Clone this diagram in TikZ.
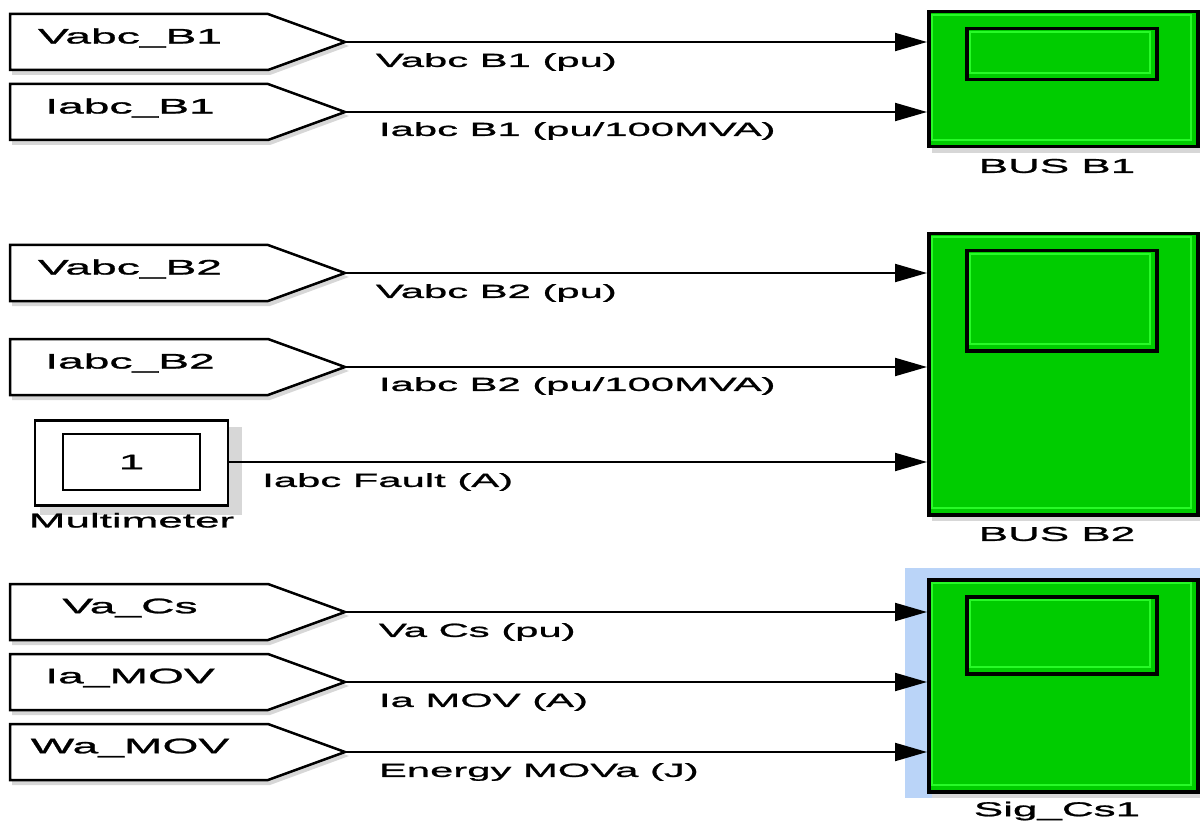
\documentclass[tikz,border=0pt]{standalone}
\usepackage{fontspec}
\setmainfont{Liberation Sans}[FakeStretch=2.2,FakeBold=1.2]
\usetikzlibrary{arrows.meta,positioning}

\definecolor{scopegreen}{RGB}{0,204,0}
\definecolor{edgegreen}{RGB}{40,250,40}
\definecolor{selblue}{RGB}{186,212,248}
\definecolor{shadowgray}{RGB}{215,215,215}

\tikzset{
  sig/.style={line width=2pt,-{Triangle[length=32pt,width=18pt]}},
  tagtext/.style={font=\fontsize{21}{21}\selectfont, inner sep=0pt},
  siglabel/.style={font=\fontsize{19}{19}\selectfont, inner sep=0pt, anchor=west},
  blocklabel/.style={font=\fontsize{20}{20}\selectfont, inner sep=0pt},
  scopebody/.style={draw=black, fill=scopegreen, line width=3.5pt, anchor=north west},
  screen/.style={draw=black, fill=scopegreen, line width=3.5pt, anchor=north west},
}

% goto tag: name, centre y, text
\newcommand{\gototag}[3]{%
  \fill[shadowgray] (12,#2-24) -- (270,#2-24) -- (349,#2+4) -- (270,#2+33) -- (12,#2+33) -- cycle;
  \draw[line width=2.5pt, fill=white] (10,#2-28) -- (268,#2-28) -- (345,#2) -- (268,#2+28) -- (10,#2+28) -- cycle;
  \node[tagtext] (#1) at (130,#2-4) {#3};
  \coordinate (#1-tip) at (345,#2);
}

% scope: name, top, height, screen height, label
\newcommand{\scopeblock}[5]{%
  \fill[shadowgray] (932,#2+5) rectangle (1200,#2+#3+8);
  \node[scopebody, minimum width=269pt, minimum height=#3 pt] (#1) at (927,#2) {};
  \draw[edgegreen, line width=1.5pt] (932,#2+5) rectangle (1191,#2+#3-5);
  \node[screen, minimum width=190pt, minimum height=#4 pt] (#1-scr) at (965,#2+17) {};
  \draw[edgegreen, line width=1.5pt] (970,#2+22) rectangle (1150,#2+#4+12);
  \node[blocklabel] (#1-lbl) at (1057,#2+#3+21) {#5};
}

\begin{document}
\begin{tikzpicture}[x=1pt,y=-1pt]
\useasboundingbox (0,0) rectangle (1200,821);

% selection of the third scope
\fill[selblue] (905,568) rectangle (1200,798);

\scopeblock{busb1}{10}{135}{51}{BUS B1}
\scopeblock{busb2}{232}{281}{100}{BUS B2}
\scopeblock{sigcs}{578}{212}{77}{Sig\_Cs1}

\gototag{vb1}{42}{Vabc\_B1}
\gototag{ib1}{112}{Iabc\_B1}
\gototag{vb2}{273}{Vabc\_B2}
\gototag{ib2}{367}{Iabc\_B2}
\gototag{vacs}{612}{Va\_Cs}
\gototag{iamov}{682}{Ia\_MOV}
\gototag{wamov}{752}{Wa\_MOV}

% multimeter
\fill[shadowgray] (40,427) rectangle (242,515);
\node[draw, fill=white, line width=2.5pt, minimum width=193pt, minimum height=85pt] (mm) at (131.5,463) {};
\node[draw, line width=2.5pt, minimum width=137pt, minimum height=56pt, tagtext] (mmin) at (131.5,462) {1};
\node[blocklabel, below=6pt of mm] (mmlbl) {Multimeter};

% signals
\draw[sig] (vb1-tip) -- (vb1-tip -| busb1.west) node[siglabel, pos=0, xshift=30pt, yshift=-20pt] {Vabc B1 (pu)};
\draw[sig] (ib1-tip) -- (ib1-tip -| busb1.west) node[siglabel, pos=0, xshift=33pt, yshift=-19pt] {Iabc B1 (pu/100MVA)};
\draw[sig] (vb2-tip) -- (vb2-tip -| busb2.west) node[siglabel, pos=0, xshift=30pt, yshift=-20pt] {Vabc B2 (pu)};
\draw[sig] (ib2-tip) -- (ib2-tip -| busb2.west) node[siglabel, pos=0, xshift=33pt, yshift=-19pt] {Iabc B2 (pu/100MVA)};
\draw[sig] (mm.east |- mmin.center) -- (mmin.center -| busb2.west) node[siglabel, pos=0, xshift=32pt, yshift=-20pt] {Iabc Fault (A)};
\draw[sig] (vacs-tip) -- (vacs-tip -| sigcs.west) node[siglabel, pos=0, xshift=33pt, yshift=-20pt] {Va Cs (pu)};
\draw[sig] (iamov-tip) -- (iamov-tip -| sigcs.west) node[siglabel, pos=0, xshift=33pt, yshift=-20pt] {Ia MOV (A)};
\draw[sig] (wamov-tip) -- (wamov-tip -| sigcs.west) node[siglabel, pos=0, xshift=33pt, yshift=-20pt] {Energy MOVa (J)};
\end{tikzpicture}
\end{document}
